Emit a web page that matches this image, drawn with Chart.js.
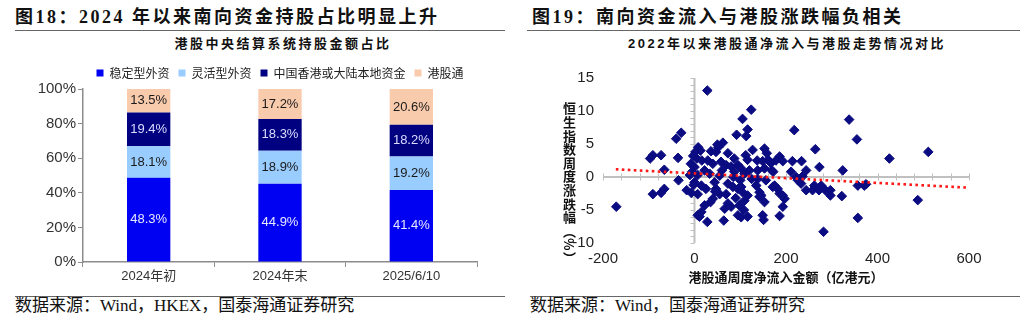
<!DOCTYPE html>
<html>
<head>
<meta charset="utf-8">
<script src="https://cdn.jsdelivr.net/npm/chart.js@4.4.1/dist/chart.umd.min.js"></script>
<style>
body{margin:0;width:1024px;height:323px;background:#fff;position:relative;overflow:hidden;font-family:"Noto Sans CJK SC",sans-serif;color:#111;}
.fig{position:absolute;top:6px;font:bold 18px/22px "Liberation Serif","Noto Sans CJK SC";letter-spacing:2.5px;white-space:nowrap;}
.rule{position:absolute;height:0;border-top:1.5px solid #666;}
.ctitle{position:absolute;top:36px;font:bold 13px/15px "Liberation Sans","Noto Sans CJK SC";letter-spacing:2.5px;transform:translateX(-50%);white-space:nowrap;}
.src{position:absolute;top:296px;font:17px/20px "Liberation Serif","Noto Sans CJK SC";white-space:nowrap;}
.box{position:absolute;}
#ytitle{position:absolute;left:562px;top:102px;writing-mode:vertical-rl;font:bold 13px/14px "Noto Sans CJK SC";letter-spacing:0.6px;}
</style>
</head>
<body>
<div class="fig" style="left:15px">图18：2024 年以来南向资金持股占比明显上升</div>
<div class="rule" style="left:15px;top:30px;width:490px"></div>
<div class="ctitle" style="left:283px">港股中央结算系统持股金额占比</div>
<div class="box" style="left:0;top:55px;width:510px;height:235px"><canvas id="bar" width="510" height="235"></canvas></div>
<div class="rule" style="left:15px;top:296px;width:490px"></div>
<div class="src" style="left:15px">数据来源：Wind，HKEX，国泰海通证券研究</div>

<div class="fig" style="left:532px">图19：南向资金流入与港股涨跌幅负相关</div>
<div class="rule" style="left:527px;top:30px;width:493px"></div>
<div class="ctitle" style="left:787px">2022年以来港股通净流入与港股走势情况对比</div>
<div class="box" style="left:520px;top:60px;width:490px;height:230px"><canvas id="scatter" width="490" height="230"></canvas></div>
<div id="ytitle">恒生指数周度涨跌幅（%）</div>
<div class="rule" style="left:530px;top:296px;width:490px"></div>
<div class="src" style="left:530px">数据来源：Wind，国泰海通证券研究</div>

<script>
// 左图：港股中央结算系统持股金额占比
const barCats = ['2024年初', '2024年末', '2025/6/10'];
const barNames = ['稳定型外资', '灵活型外资', '中国香港或大陆本地资金', '港股通'];
const stableForeign = [48.3, 44.9, 41.4];
const flexibleForeign = [18.1, 18.9, 19.2];
const localFunds = [19.4, 18.3, 18.2];
const southbound = [13.5, 17.2, 20.6];
const barColors = ['#0000f2', '#99ccff', '#000080', '#f8cbad'];
const labelColors = ['#e8e8ff', '#1a1a1a', '#dcdcff', '#1a1a1a'];
const pctTicks = [0, 20, 40, 60, 80, 100];

// 右图：港股通周度净流入（亿港元） vs 恒指周度涨跌幅（%）
const flowX = [28,124,105,338,116,218,-29,92,113,-40,355,62,52,-91,-97,-73,-36,264,511,426,
  -66,324,273,-171,488,282,357,-91,-73,-66,-35,8,13,2,-3,5,16,-8,0,-5,
  7,-10,0,15,25,7,-17,-7,-2,22,15,11,7,28,36,47,73,29,40,58,
  69,80,22,33,44,47,55,40,73,69,73,66,80,64,35,45,55,60,50,87,
  116,95,102,87,109,120,127,84,95,102,105,116,109,98,108,116,95,102,90,100,
  125,85,112,153,137,149,161,138,153,169,138,156,135,142,146,171,142,153,149,151,
  158,167,172,186,178,193,214,234,211,222,236,244,233,186,197,193,186,182,193,226,
  244,258,272,286,297,262,277,297,322,357,371,375,175];
const chgY = [13.1,10.2,8.8,8.7,7.2,7.1,6.7,6.4,6.2,5.8,5.7,5.2,4.5,3.3,2.8,3.3,2.9,4.2,3.8,2.8,
  1.1,1.0,1.5,-4.5,-3.5,-8.3,-6.2,-2.6,-2.4,-1.8,-0.5,4.5,4.0,3.8,3.2,2.8,2.5,2.0,1.5,0.8,
  0.3,0.3,-0.8,-1.3,-1.8,-2.6,-2.0,-2.4,-1.2,-4.3,-5.3,-6.0,-5.8,-6.8,3.9,3.8,3.6,2.5,2.0,2.3,
  1.8,1.6,1.0,0.5,-0.8,-1.8,-2.6,-3.3,-1.0,-2.6,-4.0,-4.8,-4.5,-6.6,-3.8,-2.2,0.2,1.0,4.9,2.8,
  2.6,1.8,1.3,0.8,0.5,1.0,4.1,-1.5,-1.8,-1.5,-2.3,-2.8,-3.6,-4.3,-5.0,-6.0,-5.8,-6.1,-3.2,-0.5,
  -0.3,0.0,3.3,4.3,2.5,2.4,2.6,1.0,1.3,1.0,-0.3,-0.5,-1.3,-2.3,-2.8,-1.5,-3.0,-3.8,-5.8,-6.5,
  3.6,2.1,0.8,3.1,2.5,2.4,2.4,2.4,0.8,0.0,0.1,1.0,-1.0,-2.5,-3.3,-4.5,-5.9,-1.8,-2.8,-0.5,
  -2.0,-2.0,-2.0,-2.0,-2.0,-1.3,-1.3,-2.8,-2.9,-1.3,-1.3,-1.1,-1.3];
const trendX = [-172, 600];
const trendY = [1.17, -1.62];
const xRange = [-200, 600];
const yRange = [-10, 15];

const series = [stableForeign, flexibleForeign, localFunds, southbound];
const totals = barCats.map((c, j) => series.reduce((s, arr) => s + arr[j], 0));

const barLabels = {
  id: 'barLabels',
  afterDatasetsDraw(chart) {
    const ctx = chart.ctx;
    ctx.save();
    ctx.font = '13px "Liberation Sans", Arial';
    ctx.textAlign = 'center';
    ctx.textBaseline = 'middle';
    chart.data.datasets.forEach((ds, i) => {
      chart.getDatasetMeta(i).data.forEach((el, j) => {
        ctx.fillStyle = labelColors[i];
        ctx.fillText(series[i][j].toFixed(1) + '%', el.x, (el.y + el.base) / 2);
      });
    });
    ctx.restore();
  }
};

const axisGray = '#8c8c8c';
new Chart(document.getElementById('bar'), {
  type: 'bar',
  data: {
    labels: barCats,
    datasets: series.map((arr, i) => ({
      label: barNames[i],
      data: arr.map((v, j) => v / totals[j] * 100),
      backgroundColor: barColors[i],
      barPercentage: 0.33,
      categoryPercentage: 1
    }))
  },
  options: {
    responsive: false,
    animation: false,
    layout: { padding: { top: 3, left: 0, right: 33, bottom: 0 } },
    plugins: {
      legend: {
        position: 'top',
        fullSize: false,
        labels: { boxWidth: 7, boxHeight: 7, padding: 9, color: '#222',
          font: { size: 12, family: '"Noto Sans CJK SC"' } }
      },
      tooltip: { enabled: false }
    },
    scales: {
      x: {
        stacked: true,
        afterFit: s => { s.height = 28; },
        grid: { offset: true, drawOnChartArea: false, tickLength: 5, color: axisGray },
        border: { color: axisGray, width: 1.5 },
        ticks: { padding: 2, color: '#333', font: { size: 13, family: '"Liberation Sans","Noto Sans CJK SC"' } }
      },
      y: {
        stacked: true,
        min: 0, max: 100,
        afterFit: s => { s.width = 83; },
        afterBuildTicks: s => { s.ticks = pctTicks.map(v => ({ value: v })); },
        grid: { drawOnChartArea: false, tickLength: 5, color: axisGray },
        border: { color: axisGray, width: 1.5 },
        ticks: { padding: 2, color: '#333', callback: v => v + '%',
          font: { size: 15, family: '"Liberation Sans", Arial' } }
      }
    }
  },
  plugins: [barLabels]
});

const crossAxes = {
  id: 'crossAxes',
  beforeDatasetsDraw(chart) {
    const { ctx, scales: { x, y } } = chart;
    const x0 = x.getPixelForValue(0), y0 = y.getPixelForValue(0);
    ctx.save();
    ctx.strokeStyle = '#c0c0c0';
    ctx.lineWidth = 2;
    ctx.beginPath();
    ctx.moveTo(x.getPixelForValue(xRange[0]), y0);
    ctx.lineTo(x.getPixelForValue(xRange[1]), y0);
    ctx.moveTo(x0, y.getPixelForValue(yRange[0]));
    ctx.lineTo(x0, y.getPixelForValue(yRange[1]));
    ctx.stroke();
    ctx.lineWidth = 1;
    ctx.beginPath();
    for (let v = xRange[0]; v <= xRange[1]; v += 40) {
      const px = Math.round(x.getPixelForValue(v)) + 0.5;
      ctx.moveTo(px, y0 - 3.5);
      ctx.lineTo(px, y0 + 3.5);
    }
    for (let v = yRange[0]; v <= yRange[1]; v += 1) {
      const py = Math.round(y.getPixelForValue(v)) + 0.5;
      ctx.moveTo(x0 - 4, py);
      ctx.lineTo(x0, py);
    }
    ctx.stroke();
    ctx.restore();
  }
};

new Chart(document.getElementById('scatter'), {
  type: 'scatter',
  data: {
    datasets: [
      {
        type: 'line',
        data: trendX.map((v, i) => ({ x: v, y: trendY[i] })),
        borderColor: '#ff1a1a',
        borderWidth: 2.6,
        borderDash: [2.6, 3.4],
        pointRadius: 0,
        fill: false,
        order: 0
      },
      {
        data: flowX.map((v, i) => ({ x: v, y: chgY[i] })),
        pointStyle: 'rectRot',
        pointRadius: 4.8,
        backgroundColor: '#0b0b82',
        borderColor: '#0b0b82',
        borderWidth: 1,
        order: 1
      }
    ]
  },
  options: {
    responsive: false,
    animation: false,
    layout: { padding: { top: 18, left: 0, right: 41, bottom: 0 } },
    plugins: { legend: { display: false }, tooltip: { enabled: false } },
    scales: {
      x: {
        type: 'linear',
        min: xRange[0], max: xRange[1],
        afterFit: s => { s.height = 47; },
        grid: { display: false, drawTicks: false },
        border: { display: false },
        ticks: { stepSize: 200, padding: 7, color: '#222', font: { size: 15, family: '"Liberation Sans", Arial' } },
        title: { display: true, text: '港股通周度净流入金额（亿港元）', color: '#111',
          padding: { top: 0, bottom: 5 }, font: { size: 13, weight: 'bold', family: '"Noto Sans CJK SC"' } }
      },
      y: {
        min: yRange[0], max: yRange[1],
        afterFit: s => { s.width = 83; },
        grid: { display: false, drawTicks: false },
        border: { display: false },
        ticks: { stepSize: 5, padding: 9, color: '#222', font: { size: 15, family: '"Liberation Sans", Arial' } }
      }
    }
  },
  plugins: [crossAxes]
});
</script>
</body>
</html>
